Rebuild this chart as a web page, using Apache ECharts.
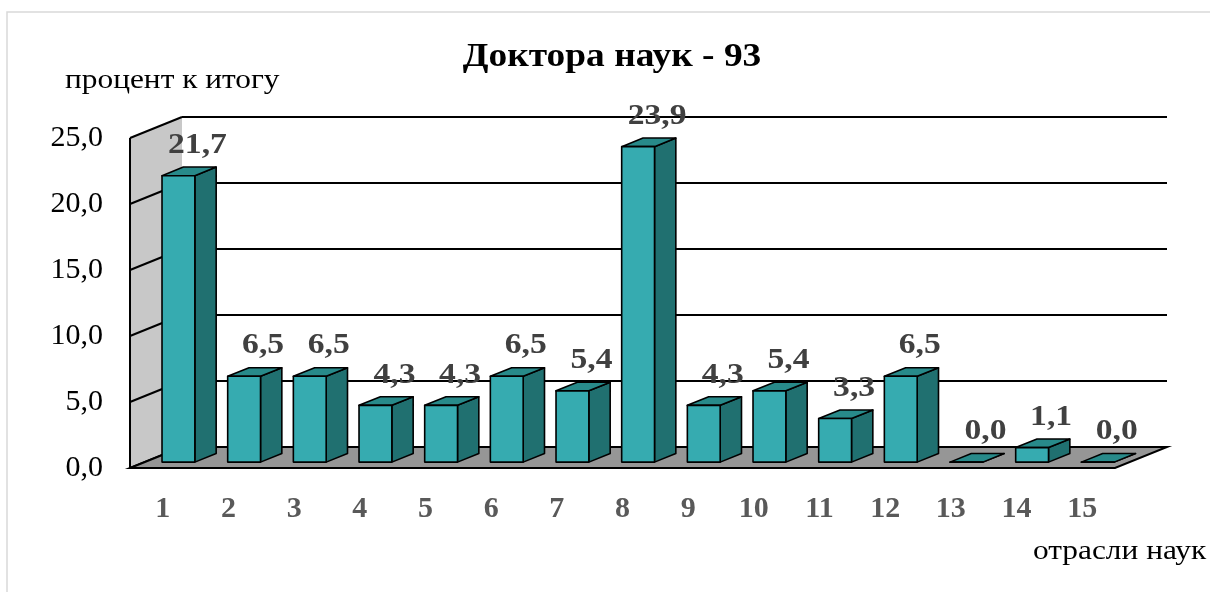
<!DOCTYPE html>
<html>
<head>
<meta charset="utf-8">
<script src="https://cdn.jsdelivr.net/npm/echarts@6/dist/echarts.min.js"></script>
<style>
  html, body { margin: 0; padding: 0; background: #fff; }
  #main { width: 1210px; height: 592px; }
</style>
</head>
<body>
<div id="main"></div>
<script>
// данные диаграммы
var categories = ['1', '2', '3', '4', '5', '6', '7', '8', '9', '10', '11', '12', '13', '14', '15'];
var values = [21.7, 6.5, 6.5, 4.3, 4.3, 6.5, 5.4, 23.9, 4.3, 5.4, 3.3, 6.5, 0.0, 1.1, 0.0];
var yTicks = [0, 5, 10, 15, 20, 25];

var FONT = '"Liberation Serif", "Times New Roman", serif';
// смещение задней стенки (псевдо-3D)
var DEPTH = [52, -21];
// текст в оригинале немного растянут по горизонтали
var STRETCH = 1.12;

function fmt(v) {
    return v.toFixed(1).replace('.', ',');
}

var myChart = echarts.init(document.getElementById('main'));

// стенка и пол
function renderFrame(params, api) {
    var band = api.size([1, 0])[0];
    var left = api.coord([0, 0])[0] - band / 2;
    var right = api.coord([categories.length - 1, 0])[0] + band / 2;
    var y0 = api.coord([0, 0])[1];
    var yTop = api.coord([0, yTicks[yTicks.length - 1]])[1];
    var children = [];
    children.push({
        type: 'polygon',
        shape: { points: [[left, y0], [left, yTop], [left + DEPTH[0], yTop + DEPTH[1]], [left + DEPTH[0], y0 + DEPTH[1]]] },
        style: { fill: '#c8c8c8' }
    });
    for (var i = 0; i < yTicks.length; i++) {
        var yy = api.coord([0, yTicks[i]])[1];
        children.push({
            type: 'line',
            shape: { x1: left, y1: yy, x2: left + DEPTH[0], y2: yy + DEPTH[1] },
            style: { stroke: '#000', lineWidth: 2 }
        });
    }
    children.push({
        type: 'line',
        shape: { x1: left, y1: y0, x2: left, y2: yTop },
        style: { stroke: '#000', lineWidth: 2 }
    });
    children.push({
        type: 'polygon',
        shape: { points: [[left, y0], [right, y0], [right + DEPTH[0], y0 + DEPTH[1]], [left + DEPTH[0], y0 + DEPTH[1]]] },
        style: { fill: '#969696', stroke: '#000', lineWidth: 2 }
    });
    return { type: 'group', children: children };
}

// столбики
function renderBar(params, api) {
    var i = api.value(0);
    var v = api.value(1);
    var base = api.coord([i, 0]);
    var top = api.coord([i, v]);
    var band = api.size([1, 0])[0];
    var w = band * 0.5;
    var ox = DEPTH[0] * 0.3, oy = DEPTH[1] * 0.28;
    var dx = DEPTH[0] * 0.41, dy = DEPTH[1] * 0.41;
    var x0 = base[0] - w / 2 + ox, x1 = x0 + w;
    var yb = base[1] + oy, yt = top[1] + oy;
    var line = { stroke: '#000', lineWidth: 1.6, lineJoin: 'round' };
    return {
        type: 'group',
        children: [
            {
                type: 'polygon',
                shape: { points: [[x1, yb], [x1, yt], [x1 + dx, yt + dy], [x1 + dx, yb + dy]] },
                style: Object.assign({ fill: '#207070' }, line)
            },
            {
                type: 'polygon',
                shape: { points: [[x0, yt], [x1, yt], [x1 + dx, yt + dy], [x0 + dx, yt + dy]] },
                style: Object.assign({ fill: '#288a8a' }, line)
            },
            {
                type: 'rect',
                shape: { x: x0, y: yt, width: w, height: yb - yt },
                style: Object.assign({ fill: '#36abb0' }, line)
            },
            {
                type: 'text',
                x: x0 + w / 2 + 19,
                y: yt + dy - 22,
                scaleX: STRETCH,
                style: {
                    text: fmt(v),
                    x: 0,
                    y: 0,
                    align: 'center',
                    verticalAlign: 'middle',
                    fill: '#404040',
                    font: 'bold 30px ' + FONT
                }
            }
        ]
    };
}

var barData = [];
for (var k = 0; k < values.length; k++) {
    barData.push([k, values[k]]);
}

var option = {
    animation: false,
    grid: [
        { left: 130, top: 138, width: 985, height: 330 },
        { left: 130 + DEPTH[0], top: 138 + DEPTH[1], width: 985, height: 330 }
    ],
    xAxis: [
        {
            type: 'category',
            gridIndex: 0,
            data: categories,
            axisLine: { show: false },
            axisTick: { show: false },
            axisLabel: {
                margin: 26,
                fontFamily: FONT,
                fontSize: 30,
                fontWeight: 'bold',
                color: '#595959'
            }
        },
        {
            type: 'category',
            gridIndex: 1,
            data: categories,
            show: false
        }
    ],
    yAxis: [
        {
            type: 'value',
            gridIndex: 0,
            min: 0,
            max: 25,
            interval: 5,
            axisLine: { show: false },
            axisTick: { show: false },
            splitLine: { show: false },
            axisLabel: {
                margin: 27,
                fontFamily: FONT,
                fontSize: 30,
                color: '#000',
                formatter: function (v) { return fmt(v); }
            }
        },
        {
            type: 'value',
            gridIndex: 1,
            min: 0,
            max: 25,
            interval: 5,
            axisLine: { show: false },
            axisTick: { show: false },
            axisLabel: { show: false },
            splitLine: { show: true, lineStyle: { color: '#000', width: 2 } }
        }
    ],
    graphic: [
        {
            type: 'rect',
            shape: { x: 7, y: 12, width: 1230, height: 600 },
            style: { fill: 'none', stroke: '#d9d9d9', lineWidth: 1.5 },
            silent: true
        },
        {
            type: 'text',
            x: 612,
            y: 57,
            scaleX: 1.1,
            style: {
                text: 'Доктора наук - 93',
                x: 0, y: 0,
                align: 'center',
                verticalAlign: 'middle',
                font: 'bold 34px ' + FONT,
                fill: '#000'
            }
        },
        {
            type: 'text',
            x: 65,
            y: 81,
            scaleX: STRETCH,
            style: {
                text: 'процент к итогу',
                x: 0, y: 0,
                verticalAlign: 'middle',
                font: '28px ' + FONT,
                fill: '#000'
            }
        },
        {
            type: 'text',
            x: 1033,
            y: 552,
            scaleX: STRETCH,
            style: {
                text: 'отрасли наук',
                x: 0, y: 0,
                verticalAlign: 'middle',
                font: '28px ' + FONT,
                fill: '#000'
            }
        }
    ],
    series: [
        {
            type: 'custom',
            xAxisIndex: 0,
            yAxisIndex: 0,
            z: 1,
            data: [[0, 0]],
            renderItem: renderFrame,
            silent: true
        },
        {
            type: 'custom',
            xAxisIndex: 0,
            yAxisIndex: 0,
            z: 3,
            data: barData,
            encode: { x: 0, y: 1 },
            renderItem: renderBar
        }
    ]
};

myChart.setOption(option);
</script>
</body>
</html>
